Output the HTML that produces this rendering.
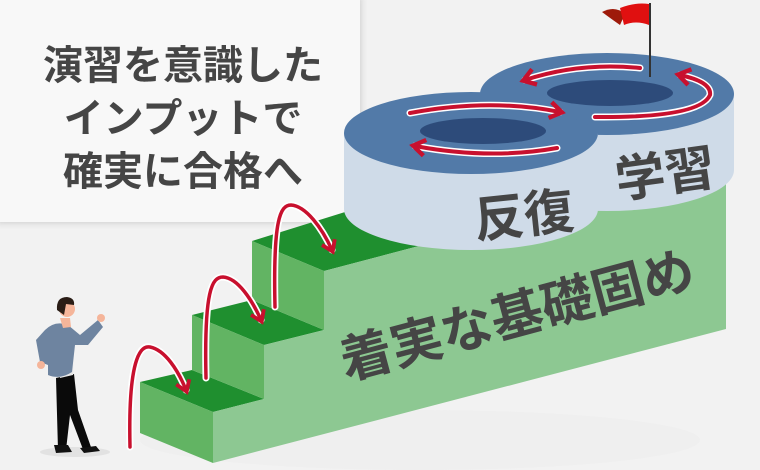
<!DOCTYPE html>
<html><head><meta charset="utf-8"><style>
html,body{margin:0;padding:0;background:#f2f2f2;}
svg{display:block;}
text{font-family:"Liberation Sans","Noto Sans CJK JP",sans-serif;font-weight:bold;fill:#454545;}
</style></head><body>
<svg width="760" height="470" viewBox="0 0 760 470" xmlns="http://www.w3.org/2000/svg">
<defs>
<filter id="sh" x="-10%" y="-10%" width="130%" height="130%"><feDropShadow dx="2" dy="2" stdDeviation="3" flood-color="#000" flood-opacity="0.12"/></filter>
<marker id="ah" viewBox="0 0 10 10" refX="6" refY="5" markerWidth="5" markerHeight="5" orient="auto"><path d="M1,1 L7,5 L1,9" fill="none" stroke="#c8102e" stroke-width="2.2"/></marker>
</defs>
<rect width="760" height="470" fill="#f2f2f2"/>
<rect x="-5" y="-5" width="365" height="227" fill="#f8f8f8" filter="url(#sh)"/>
<text x="183" y="79" font-size="40" text-anchor="middle">演習を意識した</text>
<text x="183" y="132" font-size="40" text-anchor="middle">インプットで</text>
<text x="183" y="185" font-size="40" text-anchor="middle">確実に合格へ</text>

<ellipse cx="420" cy="440" rx="280" ry="30" fill="#efefef"/>
<!-- stairs -->
<polygon points="252,241 324,271 726,165 726,120 480,170" fill="#1f8f2f"/>
<polygon points="192,315 264,345 324,330 252,300" fill="#1f8f2f"/>
<polygon points="140,382 213,412 264,399 192,370" fill="#1f8f2f"/>
<polygon points="140,382 213,412 213,463 140,433" fill="#62b463"/>
<polygon points="192,315 264,345 264,399 192,370" fill="#62b463"/>
<polygon points="252,241 324,271 324,330 252,300" fill="#62b463"/>
<polygon points="213,463 213,412 264,399 264,345 324,330 324,271 726,165 726,329" fill="#8dc892"/>
<text font-size="52" transform="translate(346,380) rotate(-15)">着実な基礎固め</text>

<!-- cylinders -->
<path d="M480,94 L480,170 A127,41 0 0 0 734,170 L734,94 Z" fill="#cfdbe8"/>
<ellipse cx="607" cy="94" rx="127" ry="41" fill="#527aa8"/>
<path d="M344,133 L344,209 A127,41 0 0 0 598,209 L598,133 Z" fill="#cfdbe8"/>
<ellipse cx="471" cy="133" rx="127" ry="41" fill="#527aa8"/>
<path d="M560,110 Q600,135 620,128 L640,120 L600,95 Z" fill="#527aa8"/>
<ellipse cx="483" cy="131" rx="63" ry="13" fill="#2d4b7a"/>
<ellipse cx="610" cy="93" rx="63" ry="13" fill="#2d4b7a"/>
<text font-size="50" transform="translate(476,238) rotate(-6)">反復</text>
<text font-size="50" transform="translate(618,198) rotate(-8)">学習</text>

<!-- flag -->
<line x1="650" y1="3" x2="650" y2="77" stroke="#333" stroke-width="2"/>
<path d="M602,12 Q615,5 625,14 L620,25 Q610,18 602,12 Z" fill="#9e1a0a"/>
<path d="M620,8 Q635,2 649,4 L649,25 Q636,20 624,25 Z" fill="#e01010"/>

<!-- loop arrows -->
<g fill="none" stroke="#fff" stroke-width="7" stroke-linecap="round">
<path d="M410,113 Q490,98 560,112"/><path d="M557,148 Q490,160 415,146"/>
<path d="M640,68 Q580,62 525,80"/><path d="M595,117 Q700,118 710,95 Q712,82 680,75"/>
</g>
<g fill="none" stroke="#c8102e" stroke-width="4" stroke-linecap="round" marker-end="url(#ah)">
<path d="M410,113 Q490,98 560,112"/><path d="M557,148 Q490,160 415,146"/>
<path d="M640,68 Q580,62 525,80"/><path d="M595,117 Q700,118 710,95 Q712,82 680,75"/>
</g>

<!-- jump arrows -->
<g fill="none" stroke="#fff" stroke-width="7" stroke-linecap="round">
<path d="M130,447 C128,360 140,345 150,347 C165,350 178,370 186,390"/>
<path d="M206,378 C204,290 212,277 223,277 C238,278 252,300 261,320"/>
<path d="M275,307 C273,220 280,205 291,205 C306,206 322,228 332,250"/>
</g>
<g fill="none" stroke="#c8102e" stroke-width="3.5" stroke-linecap="round" marker-end="url(#ah)">
<path d="M130,447 C128,360 140,345 150,347 C165,350 178,370 186,390"/>
<path d="M206,378 C204,290 212,277 223,277 C238,278 252,300 261,320"/>
<path d="M275,307 C273,220 280,205 291,205 C306,206 322,228 332,250"/>
</g>

<!-- person -->
<ellipse cx="75" cy="452" rx="35" ry="5" fill="#e2e2e2"/>
<path d="M56,378 L74,374 L78,410 L92,450 L84,452 L70,415 L66,450 L58,450 Z" fill="#0a0a0a"/>
<path d="M54,445 L68,445 L72,452 L56,453 Z M80,448 L96,446 L100,451 L84,453 Z" fill="#111"/>
<path d="M62,332 L74,340 L73,375 L60,378 Z" fill="#e8e8e8"/>
<path d="M45,330 Q55,320 68,325 L80,335 L98,320 L103,327 L88,345 L75,345 L72,372 Q60,380 48,375 L48,365 L40,362 L36,340 Z" fill="#6e84a0"/>
<circle cx="101" cy="318" r="4" fill="#f5b59a"/>
<circle cx="41" cy="365" r="4" fill="#f5b59a"/>
<path d="M60,318 L70,318 L71,327 L63,328 Z" fill="#f5b59a"/>
<circle cx="67" cy="309" r="8" fill="#f5b59a"/>
<path d="M57,310 Q56,297 67,297 Q75,298 74,305 L66,304 L64,315 Z" fill="#2a1d16"/>
</svg>
</body></html>
